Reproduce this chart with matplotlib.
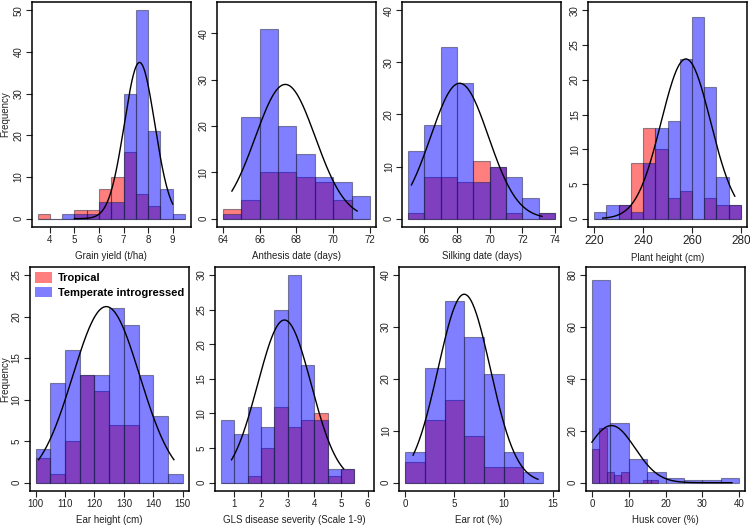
import numpy as np
import matplotlib
matplotlib.use('Agg')
from matplotlib import pyplot as plt
from matplotlib.patches import Patch

plt.rcParams['font.family'] = ['Liberation Sans', 'DejaVu Sans']

# ---- data ----
# grain yield
gy_edges = [3.5, 4, 4.5, 5, 5.5, 6, 6.5, 7, 7.5, 8, 8.5, 9, 9.5]
gy_trop = [1, 0, 0, 2, 2, 7, 10, 16, 6, 3, 0, 0]
gy_temp = [0, 0, 1, 1, 1, 4, 4, 30, 50, 21, 7, 1]
gy_curve = [7.65, 0.62, 37.5, 5.0, 9.0]   # mean, sd, peak, xmin, xmax

# anthesis date
ad_edges = [64, 65, 66, 67, 68, 69, 70, 71, 72]
ad_trop = [2, 4, 10, 10, 9, 8, 4, 0]
ad_temp = [1, 22, 41, 20, 14, 9, 8, 5]
ad_curve = [67.4, 1.63, 29.0, 64.5, 71.3]

# silking date
sd_edges = [65, 66, 67, 68, 69, 70, 71, 72, 73, 74]
sd_trop = [1, 8, 8, 7, 11, 10, 1, 0, 1]
sd_temp = [13, 18, 33, 26, 7, 10, 8, 4, 1]
sd_curve = [68.15, 1.77, 26.0, 65.2, 73.2]

# plant height
ph_edges = [220, 225, 230, 235, 240, 245, 250, 255, 260, 265, 270, 275, 280]
ph_trop = [0, 0, 2, 8, 13, 10, 3, 4, 0, 3, 2, 2]
ph_temp = [1, 2, 2, 1, 8, 13, 14, 23, 29, 19, 6, 2]
ph_curve = [257.5, 10.1, 23.0, 223.5, 277.5]

# ear height
eh_edges = [100, 105, 110, 115, 120, 125, 130, 135, 140, 145, 150]
eh_trop = [3, 1, 5, 13, 11, 7, 7, 0, 0, 0]
eh_temp = [4, 12, 16, 13, 13, 21, 19, 13, 8, 1]
eh_curve = [124.0, 11.4, 21.2, 101.0, 147.0]

# GLS disease severity
gls_edges = [0.5, 1, 1.5, 2, 2.5, 3, 3.5, 4, 4.5, 5, 5.5]
gls_trop = [0, 0, 1, 5, 11, 8, 9, 10, 1, 2]
gls_temp = [9, 7, 11, 8, 25, 30, 17, 9, 2, 2]
gls_curve = [2.88, 1.0, 23.5, 0.9, 5.1]

# ear rot
er_edges = [0, 2, 4, 6, 8, 10, 12, 14]
er_trop = [4, 12, 16, 9, 3, 3, 0]
er_temp = [6, 22, 35, 28, 21, 6, 2]
er_curve = [6.0, 2.65, 36.3, 0.8, 13.5]

# husk cover (tropical uses narrower bins)
hc_edges_trop = [0, 2, 4, 6, 8, 10, 12, 14, 16, 18]
hc_trop = [13, 21, 4, 3, 4, 0, 0, 1, 1]
hc_edges_temp = [0, 5, 10, 15, 20, 25, 30, 35, 40]
hc_temp = [78, 23, 9, 4, 2, 1, 1, 2]
hc_curve = [5.3, 6.4, 22.0, 0.0, 38.0]

panels = [
    ('Grain yield (t/ha)', gy_edges, gy_trop, gy_edges, gy_temp, gy_curve, [4, 5, 6, 7, 8, 9], (3.5, 9.5), np.arange(0, 51, 10), 50),
    ('Anthesis date (days)', ad_edges, ad_trop, ad_edges, ad_temp, ad_curve, [64, 66, 68, 70, 72], (64, 72), np.arange(0, 41, 10), 45),
    ('Silking date (days)', sd_edges, sd_trop, sd_edges, sd_temp, sd_curve, [66, 68, 70, 72, 74], (65, 74), np.arange(0, 41, 10), 40),
    ('Plant height (cm)', ph_edges, ph_trop, ph_edges, ph_temp, ph_curve, [220, 240, 260, 280], (220, 280), np.arange(0, 31, 5), 30),
    ('Ear height (cm)', eh_edges, eh_trop, eh_edges, eh_temp, eh_curve, [100, 110, 120, 130, 140, 150], (100, 150), np.arange(0, 26, 5), 25),
    ('GLS disease severity (Scale 1-9)', gls_edges, gls_trop, gls_edges, gls_temp, gls_curve, [1, 2, 3, 4, 5, 6], (0.5, 6), np.arange(0, 31, 5), 30),
    ('Ear rot (%)', er_edges, er_trop, er_edges, er_temp, er_curve, [0, 5, 10, 15], (0, 15), np.arange(0, 41, 10), 40),
    ('Husk cover (%)', hc_edges_trop, hc_trop, hc_edges_temp, hc_temp, hc_curve, [0, 10, 20, 30, 40], (0, 40), np.arange(0, 81, 20), 80),
]

# box positions in pixels: left, right, top, bottom
boxes = [
    (31.7, 190.9, 2, 227), (216.8, 375.9, 2, 227), (402.3, 560.9, 2, 227), (588.3, 746.8, 2, 227),
    (29.8, 188.6, 266.7, 491), (215, 373.6, 266.7, 491), (399.3, 558.6, 266.7, 491), (586, 745.2, 266.7, 491),
]

W, H = 750, 525
fig = plt.figure(figsize=(7.5, 5.25), dpi=100)

red = (1, 0, 0, 0.5)
blue = (0, 0, 1, 0.5)
edge = (0.15, 0.15, 0.25, 0.5)

for i, (label, e1, c1, e2, c2, cv, xt, xr, yt, ytop) in enumerate(panels):
    l, r, t, b = boxes[i]
    ax = fig.add_axes([l / W, 1 - b / H, (r - l) / W, (b - t) / H])
    e1 = np.asarray(e1, float)
    e2 = np.asarray(e2, float)
    ax.bar(e1[:-1], c1, width=np.diff(e1), align='edge', color=red, edgecolor=edge, linewidth=0.8)
    ax.bar(e2[:-1], c2, width=np.diff(e2), align='edge', color=blue, edgecolor=edge, linewidth=0.8)
    mu, sd, peak, x0, x1 = cv
    xs = np.linspace(x0, x1, 200)
    ax.plot(xs, peak * np.exp(-(xs - mu) ** 2 / (2 * sd ** 2)), color='black', lw=1.0)

    pad = (xr[1] - xr[0]) * 0.04
    ax.set_xlim(xr[0] - pad, xr[1] + pad)
    ax.set_ylim(-ytop * 0.04, ytop * 1.04)
    ax.set_xticks(xt)
    ax.set_yticks(yt)
    ax.tick_params(direction='out', length=4, width=0.8, labelsize=7, colors='#222222', pad=2)
    if i == 3:
        ax.tick_params(axis='x', labelsize=8.5)
    for lab in ax.get_yticklabels():
        lab.set_rotation(90)
        lab.set_va('center')
    for s in ax.spines.values():
        s.set_linewidth(1.1)
        s.set_color('black')
    ax.set_xlabel(label, fontsize=7, color='#222222', labelpad=4)
    if i in (0, 4):
        ax.set_ylabel('Frequency', fontsize=7, color='#222222')
        ax.yaxis.set_label_coords((10.5 - l) / (r - l), 0.5)
    if i == 4:
        handles = [Patch(facecolor=red, edgecolor='none'), Patch(facecolor=blue, edgecolor='none')]
        ax.legend(handles, ['Tropical', 'Temperate introgressed'], loc='upper left',
                  frameon=False, prop={'weight': 'bold', 'size': 8}, handlelength=1.6,
                  handleheight=1.1, handletextpad=0.5, borderaxespad=0.1, labelspacing=0.3,
                  bbox_to_anchor=(-0.005, 1.0))

fig.savefig('out.png', dpi=100)
